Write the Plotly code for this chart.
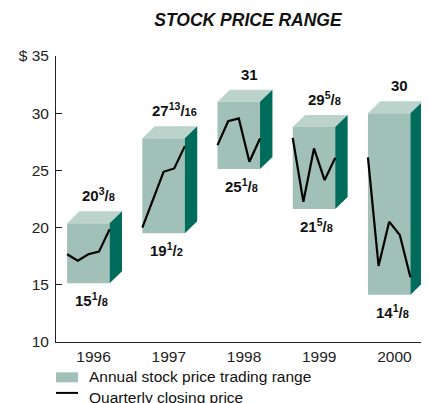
import plotly.graph_objects as go

# ---- data ----
years = ["1996", "1997", "1998", "1999", "2000"]
range_low = [15.125, 19.5, 25.125, 21.625, 14.125]
range_high = [20.375, 27.8125, 31.0, 28.8, 30.0]   # drawn box tops
high_whole = [20, 27, 31, 29, 30]
high_num = [3, 13, 0, 5, 0]
high_den = [8, 16, 1, 8, 1]
low_whole = [15, 19, 25, 21, 14]
low_num = [1, 1, 1, 5, 1]
low_den = [8, 2, 8, 8, 8]
quarterly_close = [
    [17.67, 17.11, 17.67, 17.90, 19.85],
    [19.99, 22.45, 24.88, 25.17, 27.12],
    [27.21, 29.30, 29.54, 25.75, 27.79],
    [27.84, 22.26, 26.92, 24.15, 26.10],
    [26.13, 16.65, 20.52, 19.35, 15.66],
]
y_ticks = [10, 15, 20, 25, 30, 35]
y_ticktext = ["10", "15", "20", "25", "30", "$ 35"]

# ---- styling ----
FRONT = "#a0c0b8"
TOP = "#bbd3cb"
SIDE = "#006c5c"
FONT = "Liberation Sans"
LEFT, RIGHT = -0.352, 0.213   # front face extent around category centre
DX, DY = 0.165, 1.05          # 3-D depth offset

fig = go.Figure()

fx, fy, tx, ty, sx, sy = [], [], [], [], [], []
for i, (lo, hi) in enumerate(zip(range_low, range_high)):
    x0, x1 = i + LEFT, i + RIGHT
    fx += [x0, x1, x1, x0, x0, None]
    fy += [lo, lo, hi, hi, lo, None]
    tx += [x0, x1, x1 + DX, x0 + DX, x0, None]
    ty += [hi, hi, hi + DY, hi + DY, hi, None]
    sx += [x1, x1 + DX, x1 + DX, x1, x1, None]
    sy += [lo, lo + DY, hi + DY, hi, lo, None]

for xs, ys, c in [(fx, fy, FRONT), (tx, ty, TOP), (sx, sy, SIDE)]:
    fig.add_trace(go.Scatter(x=xs, y=ys, mode="lines", fill="toself",
                             fillcolor=c, line=dict(width=0, color=c),
                             hoverinfo="skip", showlegend=False))

for i, q in enumerate(quarterly_close):
    n = len(q)
    xs = [i + LEFT + k * (RIGHT - LEFT) / (n - 1) for k in range(n)]
    fig.add_trace(go.Scatter(x=xs, y=q, mode="lines",
                             line=dict(color="black", width=2.2),
                             showlegend=False))


def frac(w, n, d):
    if n == 0:
        return f"<b>{w}</b>"
    return (f"<b>{w}<sup>{n}</sup>/<span style='font-size:11px'>{d}</span></b>")


annotations = []
for i in range(len(years)):
    annotations.append(dict(
        x=i + 0.07, y=range_high[i] + DY, xref="x", yref="y",
        text=frac(high_whole[i], high_num[i], high_den[i]),
        showarrow=False, yanchor="bottom", yshift=5,
        font=dict(family=FONT, size=15, color="#111")))
    annotations.append(dict(
        x=i - 0.03, y=range_low[i], xref="x", yref="y",
        text=frac(low_whole[i], low_num[i], low_den[i]),
        showarrow=False, yanchor="top", yshift=-5,
        font=dict(family=FONT, size=15, color="#111")))

# legend (manual, to match the small swatches)
annotations.append(dict(x=0.082, y=-0.121, xref="paper", yref="paper",
                        text="Annual stock price trading range", showarrow=False,
                        xanchor="left", yanchor="middle",
                        font=dict(family=FONT, size=15.5, color="#111")))
annotations.append(dict(x=0.082, y=-0.193, xref="paper", yref="paper",
                        text="Quarterly closing price", showarrow=False,
                        xanchor="left", yanchor="middle",
                        font=dict(family=FONT, size=15.5, color="#111")))

shapes = [
    dict(type="rect", xref="paper", yref="paper", x0=0, x1=0.059,
         y0=-0.141, y1=-0.106, fillcolor=FRONT, line=dict(width=0)),
    dict(type="line", xref="paper", yref="paper", x0=0, x1=0.059,
         y0=-0.178, y1=-0.178, line=dict(color="black", width=2)),
]

fig.update_layout(
    width=421, height=395,
    margin=dict(l=48, r=0, t=48, b=61),
    plot_bgcolor="white", paper_bgcolor="white",
    title=dict(text="<b><i>STOCK PRICE RANGE</i></b>", x=0.570, xanchor="center",
               y=0.9696, yanchor="middle",
               font=dict(family=FONT, size=17.5, color="#111")),
    xaxis=dict(range=[-0.5, 4.46], tickvals=list(range(len(years))),
               ticktext=years, showgrid=False, zeroline=False,
               showline=True, linecolor="#222", linewidth=1, ticks="",
               tickfont=dict(family=FONT, size=15.5, color="#222")),
    yaxis=dict(range=[10, 35], tickvals=y_ticks, ticktext=y_ticktext,
               showgrid=False, zeroline=False, showline=True,
               linecolor="#222", linewidth=1, ticks="inside", ticklen=6,
               tickcolor="#222", ticklabelstandoff=3,
               tickfont=dict(family=FONT, size=15.5, color="#222")),
    annotations=annotations, shapes=shapes,
    showlegend=False,
)

fig.write_html("out.html")
